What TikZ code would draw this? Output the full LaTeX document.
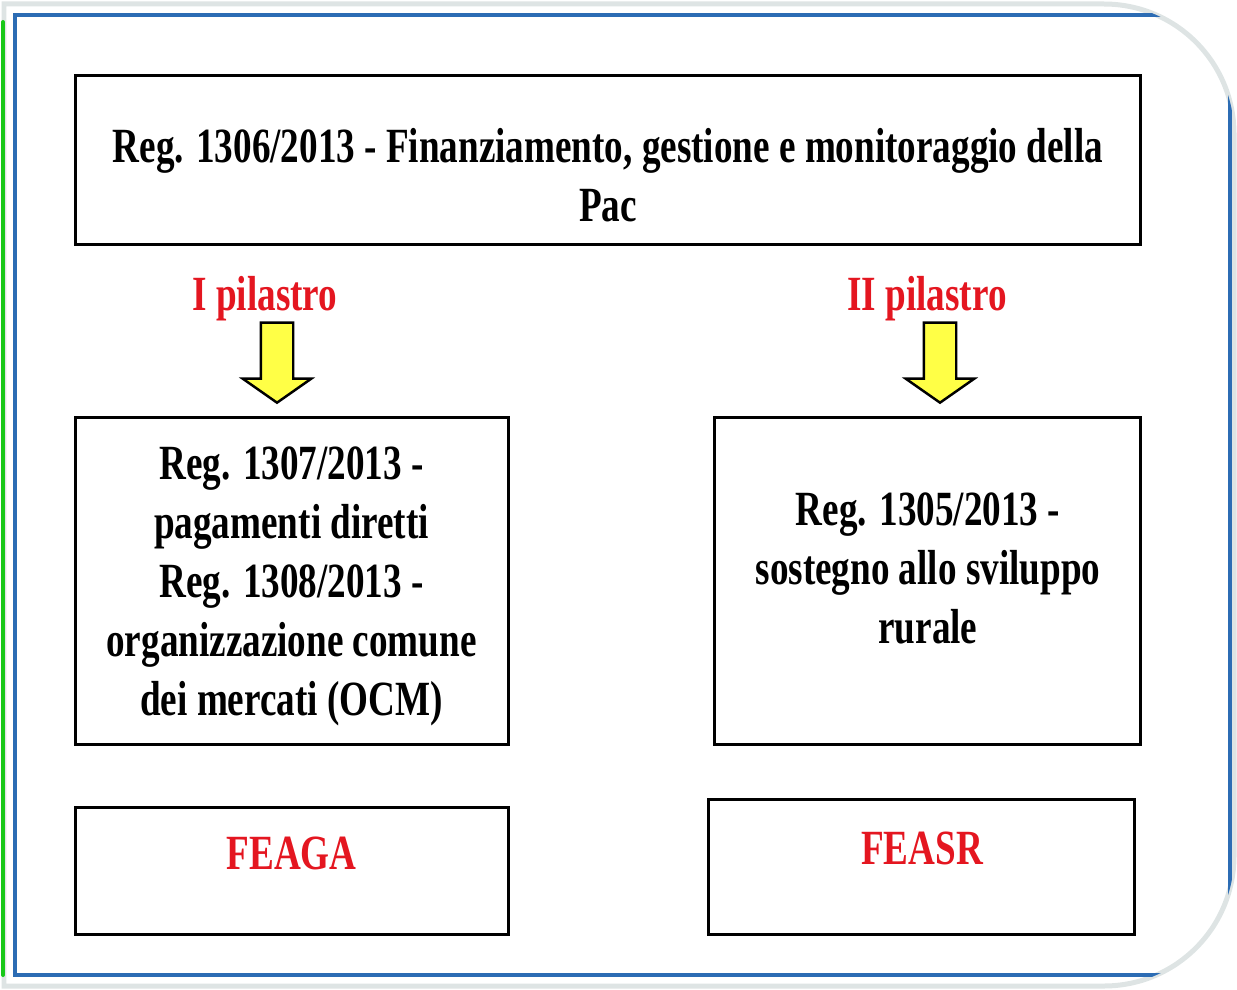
\documentclass[tikz,border=0pt]{standalone}
\usepackage{fontspec}
\newfontfamily\regfont{Liberation Serif}[FakeStretch=0.755]
\usepackage{xcolor}
\usepackage{tikz}
\usetikzlibrary{
    shapes,
    positioning
}
\definecolor{pacred}{RGB}{228,22,32}
\definecolor{pacyellow}{RGB}{255,255,70}
\definecolor{pacblue}{RGB}{44,108,180}
\definecolor{pacgray}{RGB}{222,228,228}
\definecolor{pacgreen}{RGB}{24,200,24}
\tikzset{regbox/.style={
    draw,
    line width=1.7pt,
    inner sep=0,
}}
\tikzset{regtext/.style={
    align=center,
    inner sep=0,
    font=\regfont\bfseries\fontsize{28}{33.5}\selectfont,
}}
\tikzset{fundtext/.style={
    regtext,
    text=pacred,
}}
\tikzset{pilarrow/.style={
    single arrow,
    draw,
    fill=pacyellow,
    line width=1.4pt,
    inner sep=0.3cm,
    shape border rotate=270,
    minimum height=1.6cm,
    single arrow head extend=0.36cm,
    single arrow tip angle=110,
}}
\newcommand{\pacframe}{(4,986) -- (4,4) -- (1104,4)
    arc[start angle=-90, end angle=0, radius=130] -- (1234,856)
    arc[start angle=0, end angle=90, radius=130] -- cycle}

\begin{document}
\begin{tikzpicture}[x=0.02cm, y=-0.02cm]
    \useasboundingbox (0,0) rectangle (1237,990);
    % cornice
    \draw[pacgray, line width=0.1cm] \pacframe;
    \begin{scope}
        \clip \pacframe;
        \draw[pacblue, line width=0.08cm] (15,15) rectangle (1230,975);
    \end{scope}
    \draw[pacgreen, line width=0.08cm, line cap=round] (3,22) -- (3,975);

    % regolamenti
    \node[regbox, minimum width=21.32cm, minimum height=3.4cm] (reg1306) at (608,160) {};
    \node[regtext] (reg1306txt) at ([yshift=-0.3cm]reg1306.center)
        {Reg. 1306/2013 - Finanziamento, gestione e monitoraggio della\\Pac};

    \node[fundtext] (ipil) at (265,299) {I pilastro};
    \node[fundtext] (iipil) at (927,299) {II pilastro};
    \node[pilarrow] (ipilarrow) at (277,357) {};
    \node[pilarrow] (iipilarrow) at (940,357) {};

    \node[regbox, anchor=north west, minimum width=8.66cm, minimum height=6.54cm] (reg1307)
        at ([yshift=-3.4cm]reg1306.south west) {};
    \node[regtext] (reg1307txt) at ([yshift=-0.1cm]reg1307.center)
        {Reg. 1307/2013 -\\pagamenti diretti\\Reg. 1308/2013 -\\organizzazione comune\\dei mercati (OCM)};

    \node[regbox, anchor=north east, minimum width=8.52cm, minimum height=6.54cm] (reg1305)
        at ([yshift=-3.4cm]reg1306.south east) {};
    \node[regtext] (reg1305txt) at ([yshift=0.26cm]reg1305.center)
        {Reg. 1305/2013 -\\sostegno allo sviluppo\\rurale};

    % fondi
    \node[regbox, below=1.2cm of reg1307, minimum width=8.66cm, minimum height=2.54cm] (feaga) {};
    \node[fundtext] (feagatxt) at ([yshift=0.36cm]feaga.center) {FEAGA};

    \node[regbox, below=1.04cm of reg1305, xshift=-0.12cm, minimum width=8.52cm, minimum height=2.7cm] (feasr) {};
    \node[fundtext] (feasrtxt) at ([yshift=0.37cm]feasr.center) {FEASR};
\end{tikzpicture}
\end{document}
